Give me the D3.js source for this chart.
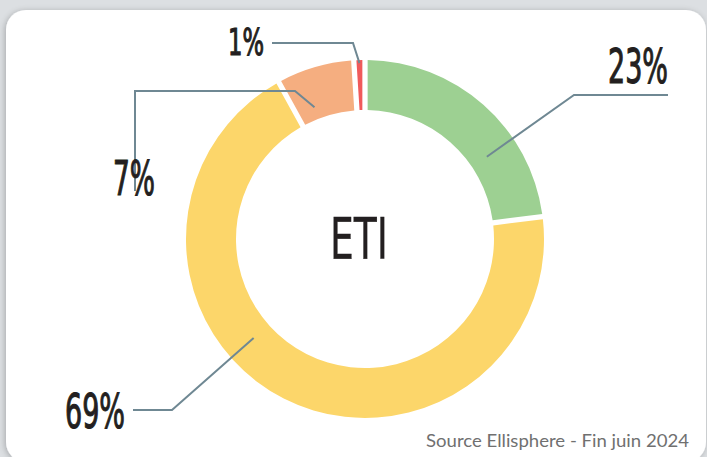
<!DOCTYPE html>
<html>
<head>
<meta charset="utf-8">
<script src="https://cdn.jsdelivr.net/npm/d3@7"></script>
<style>
  body { margin: 0; background: #dcdfe2; }
  svg { display: block; }
</style>
</head>
<body>
<div id="chart"></div>
<script>
// data
const categories = ["Vert", "Jaune", "Orange", "Rouge"];
const values = [23, 69, 7, 1];
const colors = ["#9dd092", "#fcd66a", "#f5ae80", "#f05a5b"];
const labels = ["23%", "69%", "7%", "1%"];
const centerLabel = "ETI";
const source = "Source Ellisphere - Fin juin 2024";

const width = 707, height = 457;
const cx = 365, cy = 239, outerR = 179, innerR = 129;

const svg = d3.select("#chart").append("svg")
  .attr("width", width).attr("height", height);

const defs = svg.append("defs");
const sh = defs.append("filter").attr("id", "shadow")
  .attr("x", "-5%").attr("y", "-5%").attr("width", "110%").attr("height", "110%");
sh.append("feGaussianBlur").attr("in", "SourceAlpha").attr("stdDeviation", 3);
sh.append("feOffset").attr("dx", -1).attr("dy", 1).attr("result", "b");
sh.append("feComponentTransfer").append("feFuncA").attr("type", "linear").attr("slope", 0.25);
const m = sh.append("feMerge");
m.append("feMergeNode");
m.append("feMergeNode").attr("in", "SourceGraphic");

// card
svg.append("rect")
  .attr("x", 6).attr("y", 10).attr("width", 700).attr("height", 452)
  .attr("rx", 20).attr("fill", "#fff").attr("filter", "url(#shadow)");

const data = categories.map((c, i) => ({ key: c, value: values[i], color: colors[i], label: labels[i] }));

const pie = d3.pie().sort(null).value(d => d.value);
const arcs = pie(data);
const arc = d3.arc().innerRadius(innerR).outerRadius(outerR).padAngle(0.024);

const g = svg.append("g").attr("transform", `translate(${cx},${cy})`);
g.selectAll("path").data(arcs).join("path")
  .attr("d", arc)
  .attr("fill", d => d.data.color);

// leader layout: where along the slice the line ends, elbow and label
const leaders = [
  { frac: 0.676, r: 147, pts: [[574, 95], [668, 95]], tx: 668, ty: 83, size: 48, len: 60 },
  { frac: 0.586, r: 149, pts: [[172, 410], [133, 410]], tx: 125, ty: 428, size: 48, len: 60 },
  { frac: 0.31, r: 141, pts: [[295, 91], [135, 91], [135, 191]], tx: 155, ty: 195, size: 48, len: 42 },
  { frac: 0.5, r: 176, pts: [[353, 43], [272, 43]], tx: 264, ty: 55, size: 37, len: 36 }
];

const line = d3.line();
arcs.forEach((a, i) => {
  const L = leaders[i];
  const ang = a.startAngle + (a.endAngle - a.startAngle) * L.frac;
  const p = [cx + L.r * Math.sin(ang), cy - L.r * Math.cos(ang)];
  svg.append("path")
    .attr("d", line([p, ...L.pts]))
    .attr("fill", "none")
    .attr("stroke", "#6f8893")
    .attr("stroke-width", 2);
  svg.append("text")
    .attr("x", L.tx).attr("y", L.ty)
    .attr("text-anchor", "end")
    .attr("font-family", "'Liberation Sans Narrow', 'DejaVu Sans Condensed', sans-serif")
    .attr("font-size", L.size)
    .attr("textLength", L.len)
    .attr("lengthAdjust", "spacingAndGlyphs")
    .attr("fill", "#231f20")
    .attr("stroke", "#231f20")
    .attr("stroke-width", 1.1)
    .text(a.data.label);
});

svg.append("text")
  .attr("x", 359).attr("y", 259)
  .attr("text-anchor", "middle")
  .attr("font-family", "'Liberation Sans Narrow', 'DejaVu Sans Condensed', sans-serif")
  .attr("font-size", 57)
  .attr("textLength", 58)
  .attr("lengthAdjust", "spacingAndGlyphs")
  .attr("fill", "#231f20")
  .attr("stroke", "#231f20")
  .attr("stroke-width", 0.3)
  .text(centerLabel);

svg.append("text")
  .attr("x", 689).attr("y", 447)
  .attr("text-anchor", "end")
  .attr("font-family", "Lato, sans-serif")
  .attr("font-size", 18)
  .attr("textLength", 263)
  .attr("lengthAdjust", "spacingAndGlyphs")
  .attr("fill", "#707070")
  .text(source);
</script>
</body>
</html>
